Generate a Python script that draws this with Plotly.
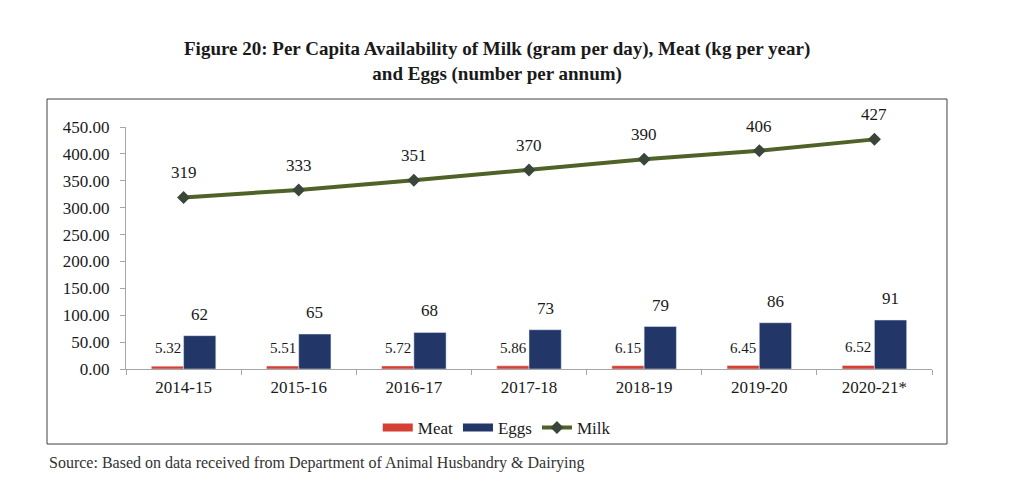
import plotly.graph_objects as go

# data
years = ["2014-15", "2015-16", "2016-17", "2017-18", "2018-19", "2019-20", "2020-21*"]
meat = [5.32, 5.51, 5.72, 5.86, 6.15, 6.45, 6.52]
eggs = [62, 65, 68, 73, 79, 86, 91]
milk = [319, 333, 351, 370, 390, 406, 427]

# style
FONT = "Liberation Serif"
MEAT_COLOUR = "#d63f33"
EGGS_COLOUR = "#223668"
MILK_COLOUR = "#4f6228"
MARKER_COLOUR = "#3a463a"
AXIS_COLOUR = "#a6a6a6"
TEXT_COLOUR = "#1a1a1a"

fig = go.Figure()

fig.add_trace(go.Bar(x=years, y=meat, name="Meat", marker=dict(color=MEAT_COLOUR), showlegend=False))
fig.add_trace(go.Bar(x=years, y=eggs, name="Eggs", marker=dict(color=EGGS_COLOUR), showlegend=False))

# legend keys drawn as wide bands, like the original
fig.add_trace(go.Scatter(x=[None], y=[None], mode="lines", name="Meat",
                         line=dict(color=MEAT_COLOUR, width=8)))
fig.add_trace(go.Scatter(x=[None], y=[None], mode="lines", name="Eggs",
                         line=dict(color=EGGS_COLOUR, width=8)))

fig.add_trace(go.Scatter(x=years, y=milk, name="Milk", mode="lines+markers",
                         line=dict(color=MILK_COLOUR, width=4),
                         marker=dict(symbol="diamond", size=10, color=MARKER_COLOUR)))

# data labels
for yr, m, e, k in zip(years, meat, eggs, milk):
    fig.add_annotation(x=yr, y=m, text="{:.2f}".format(m), xref="x", yref="y",
                       xshift=-16, yshift=8, yanchor="bottom", showarrow=False,
                       font=dict(size=15, color=TEXT_COLOUR, family=FONT))
    fig.add_annotation(x=yr, y=e, text=str(e), xref="x", yref="y",
                       xshift=16, yshift=10, yanchor="bottom", showarrow=False,
                       font=dict(size=17, color=TEXT_COLOUR, family=FONT))
    fig.add_annotation(x=yr, y=k, text=str(k), xref="x", yref="y",
                       yshift=13, yanchor="bottom", showarrow=False,
                       font=dict(size=17, color=TEXT_COLOUR, family=FONT))

# title and source
fig.add_annotation(text="<b>Figure 20: Per Capita Availability of Milk (gram per day), Meat (kg per year)<br>and Eggs (number per annum)</b>",
                   xref="paper", yref="paper", x=0.46, y=1.2686, yanchor="middle",
                   showarrow=False, font=dict(size=19, color=TEXT_COLOUR, family=FONT))
fig.add_annotation(text="Source: Based on data received from Department of Animal Husbandry & Dairying",
                   xref="paper", yref="paper", x=-0.098, y=-0.388, xanchor="left", yanchor="middle",
                   showarrow=False, font=dict(size=16, color="#333333", family=FONT))

# chart border
fig.add_shape(type="rect", xref="paper", yref="paper", x0=-0.098, x1=1.0186, y0=-0.31, y1=1.1157,
              line=dict(color="#404040", width=1))

fig.update_layout(width=995, height=474, plot_bgcolor="white", paper_bgcolor="white",
                  margin=dict(t=119, r=71, b=113, l=118),
                  font=dict(family=FONT, size=15, color=TEXT_COLOUR),
                  barmode="group", bargap=0.44, bargroupgap=0,
                  xaxis=dict(showline=True, linecolor=AXIS_COLOUR, ticks="outside", tickson="boundaries",
                             tickcolor=AXIS_COLOUR, ticklen=5, showgrid=False, ticklabelstandoff=3,
                             tickfont=dict(size=17, family=FONT, color=TEXT_COLOUR)),
                  yaxis=dict(range=[0, 450], dtick=50, tickformat=".2f", showline=True, linecolor=AXIS_COLOUR,
                             ticks="outside", tickcolor=AXIS_COLOUR, ticklen=5, showgrid=False, zeroline=False,
                             ticklabelstandoff=7,
                             tickfont=dict(size=17, family=FONT, color=TEXT_COLOUR)),
                  legend=dict(orientation="h", x=0.46, xanchor="center", y=-0.244, yanchor="middle",
                              font=dict(size=17, family=FONT, color=TEXT_COLOUR), itemwidth=30,
                              tracegroupgap=0, bgcolor="rgba(0,0,0,0)"))

fig.write_html("out.html")
